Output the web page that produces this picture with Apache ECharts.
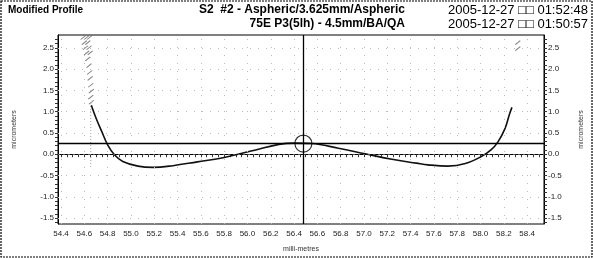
<!DOCTYPE html>
<html><head><meta charset="utf-8">
<script src="https://cdn.jsdelivr.net/npm/echarts@6/dist/echarts.min.js"></script>
<style>html,body{margin:0;padding:0;background:#fff}#c{width:593px;height:258px}</style>
</head><body><div id="c"></div>
<script>
// ---- data ----
var profileX = [54.66,54.70,54.75,54.80,54.86,54.93,55.06,55.19,55.36,55.57,55.78,56.07,56.27,56.40,56.55,56.78,57.01,57.24,57.45,57.55,57.72,57.87,58.01,58.09,58.15,58.21,58.25,58.27];
var profileY = [1.15,0.85,0.53,0.22,-0.02,-0.17,-0.28,-0.31,-0.27,-0.18,-0.09,0.10,0.23,0.26,0.25,0.14,0.01,-0.12,-0.21,-0.25,-0.28,-0.22,-0.05,0.10,0.29,0.60,0.95,1.10];
var refLevel = 0.25;        // horizontal reference line (micrometres)
var refPos = 56.48;         // vertical reference line (mm)
var xTicks = [54.4,54.6,54.8,55.0,55.2,55.4,55.6,55.8,56.0,56.2,56.4,56.6,56.8,57.0,57.2,57.4,57.6,57.8,58.0,58.2,58.4];
var yTicks = [-1.5,-1.0,-0.5,0.0,0.5,1.0,1.5,2.0,2.5];
var xMinor = [54.4,54.45,54.5,54.55,54.6,54.65,54.7,54.75,54.8,54.85,54.9,54.95,55.0,55.05,55.1,55.15,55.2,55.25,55.3,55.35,55.4,55.45,55.5,55.55,55.6,55.65,55.7,55.75,55.8,55.85,55.9,55.95,56.0,56.05,56.1,56.15,56.2,56.25,56.3,56.35,56.4,56.45,56.5,56.55,56.6,56.65,56.7,56.75,56.8,56.85,56.9,56.95,57.0,57.05,57.1,57.15,57.2,57.25,57.3,57.35,57.4,57.45,57.5,57.55,57.6,57.65,57.7,57.75,57.8,57.85,57.9,57.95,58.0,58.05,58.1,58.15,58.2,58.25,58.3,58.35,58.4,58.45,58.5];
var yMinor = [-1.6,-1.5,-1.4,-1.3,-1.2,-1.1,-1.0,-0.9,-0.8,-0.7,-0.6,-0.5,-0.4,-0.3,-0.2,-0.1,0.0,0.1,0.2,0.3,0.4,0.5,0.6,0.7,0.8,0.9,1.0,1.1,1.2,1.3,1.4,1.5,1.6,1.7,1.8,1.9,2.0,2.1,2.2,2.3,2.4,2.5,2.6,2.7];
var hatchX = [54.59,54.62,54.645,54.60,54.63,54.61,54.64,54.62,54.65,54.63,54.64,54.645,54.65,54.655,54.66,54.655,54.66,58.32,58.32];
var hatchY = [2.74,2.74,2.74,2.62,2.62,2.50,2.50,2.38,2.38,2.24,2.08,1.92,1.78,1.62,1.48,1.34,1.22,2.62,2.48];
var hatchStemX = [54.655,54.655];
var hatchStemY = [1.2,-0.3];
var titleLeft = 'Modified Profile';
var titleMid1 = 'S2  #2 - Aspheric/3.625mm/Aspheric';
var titleMid2 = '75E P3(5lh) - 4.5mm/BA/QA';
var dateLine1 = '2005-12-27 \u25A1\u25A1 01:52:48';
var dateLine2 = '2005-12-27 \u25A1\u25A1 01:50:57';
var yName = 'micrometers';
var xName = 'milli-metres';

// ---- chart ----
function zip(a,b){var r=[];for(var i=0;i<a.length;i++)r.push([a[i],b[i]]);return r;}
var chart = echarts.init(document.getElementById('c'), null, {renderer:'canvas'});
var FONT = '"Liberation Sans", Arial, sans-serif';
var gridX = xTicks.map(function(v){return {xAxis:v};});
var gridY = yTicks.map(function(v){return {yAxis:v, lineStyle:{color: v===0 ? '#555' : '#bbb', type: v===0 ? [2,3] : [1,7], width:1}};});
var yAxisBase = {
  type:'value', min:-1.64, max:2.8,
  axisLine:{show:true, lineStyle:{color:'#000', width:1}},
  axisTick:{show:true, length:3, customValues:yMinor, lineStyle:{color:'#333'}},
  axisLabel:{customValues:yTicks, fontSize:8, color:'#222', fontFamily:FONT, margin:4,
    formatter:function(v){return (Math.round(v*10)/10).toFixed(1);}},
  splitLine:{show:false},
  name:yName, nameLocation:'middle', nameRotate:90,
  nameTextStyle:{fontSize:7, color:'#333', fontFamily:FONT}
};
var option = {
  animation:false,
  backgroundColor:'#fff',
  grid:{left:58, right:47, top:35, bottom:30, show:true, borderColor:'#000', borderWidth:1},
  xAxis:{type:'value', min:54.374, max:58.545,
    axisLine:{show:true, lineStyle:{color:'#000'}},
    axisTick:{show:true, length:3, customValues:xMinor, lineStyle:{color:'#333'}},
    axisLabel:{customValues:xTicks, fontSize:8, color:'#222', fontFamily:FONT, margin:6,
      formatter:function(v){return (Math.round(v*10)/10).toFixed(1);}},
    splitLine:{show:false},
    name:xName, nameLocation:'middle', nameGap:22,
    nameTextStyle:{fontSize:7, color:'#333', fontFamily:FONT, padding:[0,0,0,0]}
  },
  yAxis:[
    Object.assign({}, yAxisBase, {position:'left', nameGap:40}),
    Object.assign({}, yAxisBase, {position:'right', nameGap:34, nameRotate:90})
  ],
  series:[
    {type:'line', data:[], silent:true,
      markLine:{symbol:'none', silent:true, label:{show:false},
        lineStyle:{color:'#bbb', type:[1,7], width:1},
        data: gridX.concat(gridY)}},
    {type:'line', data:zip(hatchStemX,hatchStemY), symbol:'none', silent:true,
      lineStyle:{color:'#999', width:1, type:[1,2]}},
    {type:'scatter', data:zip(hatchX,hatchY), symbol:'path://M0,10 L10,0', symbolSize:[5,4],
      itemStyle:{color:'none', borderColor:'#666', borderWidth:1}, silent:true},
    {type:'line', data:zip(profileX,profileY), smooth:0.4, symbol:'none',
      lineStyle:{color:'#111', width:1.6},
      markLine:{symbol:'none', silent:true, label:{show:false},
        lineStyle:{color:'#000', type:'solid', width:1.3},
        data:[{yAxis:refLevel},{xAxis:refPos}]}},
    {type:'scatter', data:[[refPos, refLevel]], symbol:'circle', symbolSize:17,
      itemStyle:{color:'rgba(0,0,0,0)', borderColor:'#000', borderWidth:1.2}, silent:true, z:5}
  ],
  graphic:[
    {type:'rect', shape:{x:1, y:1, width:591, height:256}, style:{fill:'none', stroke:'#000', lineWidth:1.2, lineDash:[2,1]}, silent:true},
    {type:'text', left:8, top:5, style:{text:titleLeft, font:'bold 10px '+FONT, fill:'#000'}},
    {type:'text', right:188, top:4, style:{text:titleMid1, font:'bold 12px '+FONT, fill:'#000'}},
    {type:'text', right:188, top:18, style:{text:titleMid2, font:'bold 12px '+FONT, fill:'#000'}},
    {type:'text', right:5, top:4, style:{text:dateLine1, font:'13px '+FONT, fill:'#000'}},
    {type:'text', right:5, top:18, style:{text:dateLine2, font:'13px '+FONT, fill:'#000'}}
  ]
};
chart.setOption(option);
</script>
</body></html>
